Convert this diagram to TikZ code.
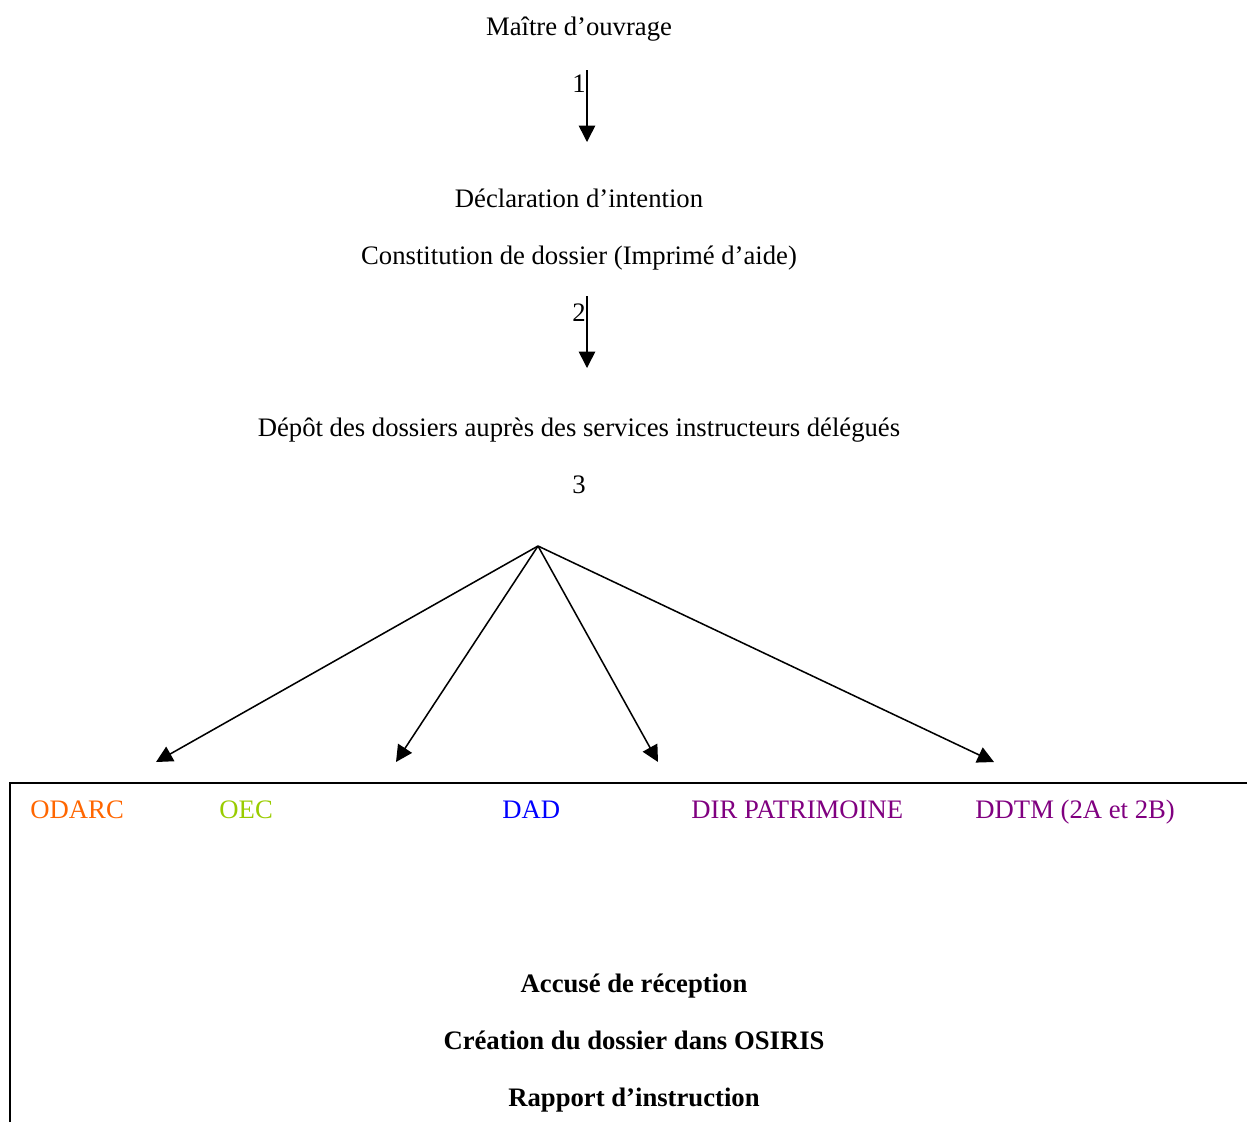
\documentclass[tikz,border=0pt]{standalone}
\usepackage{fontspec}
\setmainfont{Liberation Serif}
\usetikzlibrary{arrows.meta}

\definecolor{odarc}{HTML}{FF6600}
\definecolor{oec}{HTML}{99CC00}
\definecolor{dad}{HTML}{0000FF}
\definecolor{dir}{HTML}{800080}

\tikzset{
  txt/.style={anchor=base,inner sep=0pt,font=\fontsize{12.15}{14}\selectfont},
  org/.style={txt,anchor=base west},
  step arrow/.style={-{Triangle[length=7.5pt,width=7.5pt]},line width=0.7pt},
}

\begin{document}
\begin{tikzpicture}[x=0.016cm,y=-0.016cm]
        \useasboundingbox (0,0) rectangle (1247,1122);
        % vertical chain
        \node[txt] (mo) at (579,35) {Maître d’ouvrage};
        \coordinate (a1s) at (587,70);
        \coordinate (a1e) at (587,142);
        \draw[step arrow] (a1s) -- (a1e);
        \node[txt] (n1) at (579,92) {1};
        \node[txt] (decl) at (579,207) {Déclaration d’intention};
        \node[txt] (cons) at (579,264) {Constitution de dossier (Imprimé d’aide)};
        \coordinate (a2s) at (587,296);
        \coordinate (a2e) at (587,368);
        \draw[step arrow] (a2s) -- (a2e);
        \node[txt] (n2) at (579,321) {2};
        \node[txt] (depot) at (579,436) {Dépôt des dossiers auprès des services instructeurs délégués};
        \node[txt] (n3) at (579,493) {3};

        % fan out to the services
        \coordinate (fan) at (538,546);
        \coordinate (t1) at (156,762);
        \coordinate (t2) at (396,762);
        \coordinate (t3) at (658,762);
        \coordinate (t4) at (994,762);
        \foreach \t in {t1,t2,t3,t4}
            \draw[step arrow] (fan) -- (\t);

        % frame of the services
        \draw[line width=1pt] (10,1122) -- (10,783) -- (1247,783);
        \node[org,text=odarc] (odarc) at (30,818) {ODARC};
        \node[org,text=oec] (oec) at (219,818) {OEC};
        \node[org,text=dad] (dad) at (502,818) {DAD};
        \node[org,text=dir] (dirp) at (691,818) {DIR PATRIMOINE};
        \node[org,text=dir] (ddtm) at (975,818) {DDTM (2A et 2B)};

        \node[txt,font=\fontsize{12.15}{14}\selectfont\bfseries] (ar) at (634,992) {Accusé de réception};
        \node[txt,font=\fontsize{12.15}{14}\selectfont\bfseries] (osiris) at (634,1049) {Création du dossier dans OSIRIS};
        \node[txt,font=\fontsize{12.15}{14}\selectfont\bfseries] (rapp) at (634,1106) {Rapport d’instruction};
    \end{tikzpicture}
\end{document}
